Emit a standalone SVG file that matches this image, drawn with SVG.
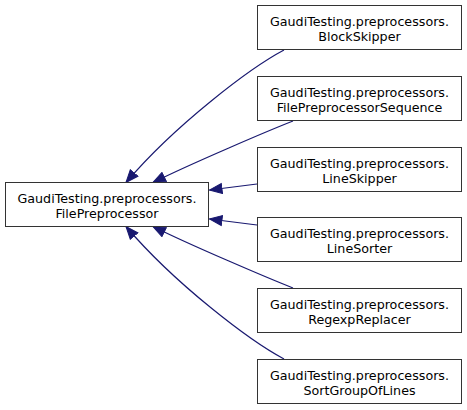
<svg xmlns="http://www.w3.org/2000/svg" width="467" height="410" viewBox="0 0 467 410">
<style>
.node rect{fill:#ffffff;stroke:#333333;stroke-width:1}
.node text{font-family:"DejaVu Sans",sans-serif;font-size:12.7px;fill:#000000;text-anchor:middle}
.edge{fill:none;stroke:#191970;stroke-width:1.2}
</style>
<defs>
<marker id="arr" markerUnits="userSpaceOnUse" markerWidth="14" markerHeight="12" viewBox="0 0 14 12" refX="13" refY="6" orient="auto">
<path d="M0.5,1 L13,6 L0.5,11 Z" fill="#191970" stroke="#191970" stroke-width="1"/>
</marker>
</defs>
<g id="connectors">
<path class="edge" d="M284,50 C250,68 175,125 126,182.5" marker-end="url(#arr)"/>
<path class="edge" d="M293,121 C270,130 190,164 153,182.5" marker-end="url(#arr)"/>
<path class="edge" d="M257,184 L209.5,190" marker-end="url(#arr)"/>
<path class="edge" d="M257,225 L209.5,219" marker-end="url(#arr)"/>
<path class="edge" d="M293,288 C270,279 190,245 153,226.5" marker-end="url(#arr)"/>
<path class="edge" d="M284,359 C250,341 175,284 126,226.5" marker-end="url(#arr)"/>
</g>
<g id="FilePreprocessor" class="node">
<rect x="5.5" y="182.5" width="203" height="44"/>
<text x="107" y="202.5">GaudiTesting.preprocessors.</text>
<text x="107" y="217.5">FilePreprocessor</text>
</g>
<g id="BlockSkipper" class="node">
<rect x="257.5" y="5.5" width="204" height="44"/>
<text x="359.5" y="25.5">GaudiTesting.preprocessors.</text>
<text x="359.5" y="40.5">BlockSkipper</text>
</g>
<g id="FilePreprocessorSequence" class="node">
<rect x="257.5" y="76.5" width="204" height="44"/>
<text x="359.5" y="96.5">GaudiTesting.preprocessors.</text>
<text x="359.5" y="111.5">FilePreprocessorSequence</text>
</g>
<g id="LineSkipper" class="node">
<rect x="257.5" y="147.5" width="204" height="44"/>
<text x="359.5" y="167.5">GaudiTesting.preprocessors.</text>
<text x="359.5" y="182.5">LineSkipper</text>
</g>
<g id="LineSorter" class="node">
<rect x="257.5" y="217.5" width="204" height="44"/>
<text x="359.5" y="237.5">GaudiTesting.preprocessors.</text>
<text x="359.5" y="252.5">LineSorter</text>
</g>
<g id="RegexpReplacer" class="node">
<rect x="257.5" y="288.5" width="204" height="44"/>
<text x="359.5" y="308.5">GaudiTesting.preprocessors.</text>
<text x="359.5" y="323.5">RegexpReplacer</text>
</g>
<g id="SortGroupOfLines" class="node">
<rect x="257.5" y="359.5" width="204" height="44"/>
<text x="359.5" y="379.5">GaudiTesting.preprocessors.</text>
<text x="359.5" y="394.5">SortGroupOfLines</text>
</g>
</svg>
